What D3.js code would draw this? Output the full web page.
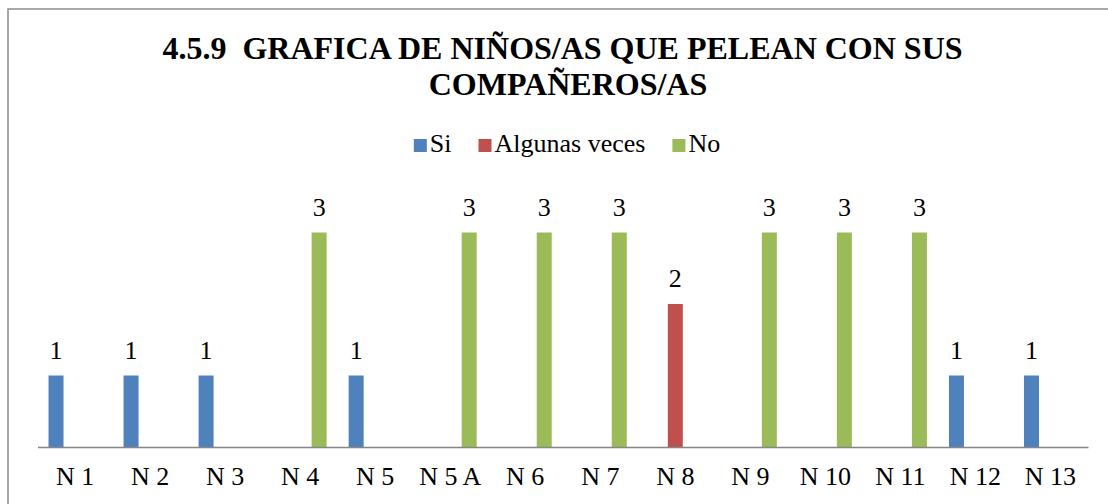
<!DOCTYPE html>
<html>
<head>
<meta charset="utf-8">
<script src="https://cdn.jsdelivr.net/npm/d3@7"></script>
<style>
  html, body { margin: 0; padding: 0; background: #fff; }
  svg { display: block; }
  svg text { font-family: 'Liberation Serif', 'Times New Roman', serif; }
</style>
</head>
<body>
<div id="chart"></div>
<script>
// Niños/as que pelean con sus compañeros/as - grouped bars
const categories = ['N 1', 'N 2', 'N 3', 'N 4', 'N 5', 'N 5 A', 'N 6', 'N 7', 'N 8', 'N 9', 'N 10', 'N 11', 'N 12', 'N 13'];
const seriesNames = ['Si', 'Algunas veces', 'No'];
const siValues = [1, 1, 1, 0, 1, 0, 0, 0, 0, 0, 0, 0, 1, 1];
const algunasValues = [0, 0, 0, 0, 0, 0, 0, 0, 2, 0, 0, 0, 0, 0];
const noValues = [0, 0, 0, 3, 0, 3, 3, 3, 0, 3, 3, 3, 0, 0];
const titleLines = ['4.5.9  GRAFICA DE NIÑOS/AS QUE PELEAN CON SUS', 'COMPAÑEROS/AS'];

(function() {
  const width = 1108;
  const height = 504;

  // Colors
  const colors = { 'Si': '#4f81bd', 'Algunas veces': '#c0504d', 'No': '#9bbb59' };
  const axisColor = '#868686';

  const series = [
    { name: 'Si', values: siValues },
    { name: 'Algunas veces', values: algunasValues },
    { name: 'No', values: noValues }
  ];

  const plot = { left: 37.5, right: 1088, baseline: 447 };

  const svg = d3.select('#chart')
    .append('svg')
    .attr('width', width)
    .attr('height', height);

  // Outer frame (runs off the right/bottom edge)
  svg.append('rect')
    .attr('x', 8)
    .attr('y', 9)
    .attr('width', 1200)
    .attr('height', 600)
    .attr('fill', '#fff')
    .attr('stroke', '#8c8c8c')
    .attr('stroke-width', 1.5);

  // Scales
  const x0 = d3.scaleBand()
    .domain(categories)
    .range([plot.left, plot.right]);

  const x1 = d3.scaleBand()
    .domain(seriesNames)
    .range([-26.5, 26.5])
    .paddingInner(4 / 19);

  const y = d3.scaleLinear()
    .domain([0, 3])
    .range([plot.baseline, 232.5]);

  // Title
  const titleX = [562.5, 568];
  svg.append('text')
    .attr('y', 58.5)
    .attr('text-anchor', 'middle')
    .style('font-weight', 'bold')
    .style('font-size', '32px')
    .attr('fill', '#000')
    .selectAll('tspan')
    .data(titleLines)
    .join('tspan')
    .attr('x', (d, i) => titleX[i])
    .attr('dy', (d, i) => i === 0 ? 0 : 36)
    .style('white-space', 'pre')
    .text(d => d);

  // Legend
  const legend = svg.append('g').attr('class', 'legend');
  let lx = 0;
  seriesNames.forEach((name, i) => {
    const g = legend.append('g').attr('transform', `translate(${lx},0)`);
    g.append('rect')
      .attr('x', 0)
      .attr('y', -13)
      .attr('width', 13)
      .attr('height', 13)
      .attr('fill', colors[name]);
    const t = g.append('text')
      .attr('x', 16)
      .attr('y', 0)
      .style('font-size', '26px')
      .attr('fill', '#000')
      .text(name);
    lx += 16 + t.node().getComputedTextLength() + 27;
  });
  const legendWidth = lx - 27;
  legend.attr('transform', `translate(${567 - legendWidth / 2},152)`);

  // Bars
  const groups = svg.append('g').attr('class', 'bars')
    .selectAll('g')
    .data(series)
    .join('g')
    .attr('fill', d => colors[d.name]);

  const barData = s => s.values
    .map((v, i) => ({ name: s.name, cat: categories[i], value: v }))
    .filter(d => d.value > 0);

  groups.selectAll('rect')
    .data(barData)
    .join('rect')
    .attr('x', d => x0(d.cat) + x0.bandwidth() / 2 + x1(d.name))
    .attr('y', d => y(d.value))
    .attr('width', x1.bandwidth())
    .attr('height', d => y(0) - y(d.value));

  // Data labels
  groups.selectAll('text')
    .data(barData)
    .join('text')
    .attr('x', d => x0(d.cat) + x0.bandwidth() / 2 + x1(d.name) + x1.bandwidth() / 2)
    .attr('y', d => y(d.value) - 17)
    .attr('text-anchor', 'middle')
    .style('font-size', '26px')
    .attr('fill', '#000')
    .text(d => d.value);

  // X axis
  const xAxis = svg.append('g')
    .attr('transform', `translate(0,${plot.baseline})`)
    .call(d3.axisBottom(x0).tickSize(0).tickPadding(20));

  xAxis.select('.domain')
    .attr('stroke', axisColor)
    .attr('stroke-width', 1.5);

  xAxis.selectAll('text')
    .style('font-size', '26px')
    .attr('fill', '#000');
})();
</script>
</body>
</html>
